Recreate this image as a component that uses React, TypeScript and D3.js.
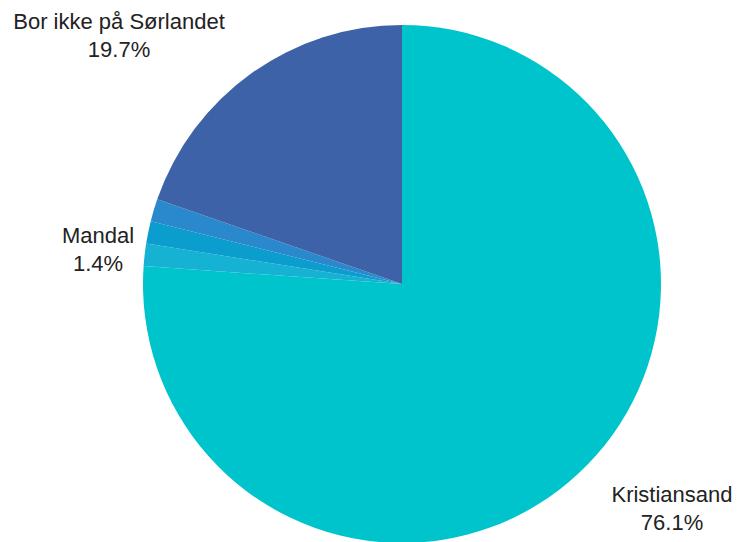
import React from "react";
import * as d3 from "d3";

const categories = ["Kristiansand", "Søgne", "Mandal", "Vennesla", "Bor ikke på Sørlandet"];
const values = [76.1, 1.4, 1.4, 1.4, 19.7];
const colors = ["#00c4cc", "#16b2d3", "#0a9dcd", "#2a88cc", "#3d62a8"];
const shownLabels = ["Kristiansand", "Mandal", "Bor ikke på Sørlandet"];

const W = 737;
const H = 542;
const CX = 402;
const CY = 284;
const R = 259;

// label anchor positions (layout)
const labelPos: Record<string, [number, number]> = {
  "Kristiansand": [672, 502],
  "Mandal": [98, 243],
  "Bor ikke på Sørlandet": [119, 29],
};

export default function App() {
  const data = categories.map((c, i) => ({ name: c, value: values[i], color: colors[i] }));
  const pie = d3.pie<any>().sort(null).value((d) => d.value);
  const arcs = pie(data);
  const arc = d3.arc<any>().innerRadius(0).outerRadius(R);
  return (
    <svg
      width={W}
      height={H}
      style={{ position: "absolute", left: 0, top: 0, background: "#fff" }}
      fontFamily="'Liberation Sans', Arial, sans-serif"
    >
      <g transform={`translate(${CX},${CY})`}>
        {arcs.map((a, i) => (
          <path key={i} d={arc(a) as string} fill={a.data.color} />
        ))}
      </g>
      {arcs
        .filter((a) => shownLabels.includes(a.data.name))
        .map((a, i) => {
          const [x, y] = labelPos[a.data.name];
          return (
            <text key={i} x={x} y={y} textAnchor="middle" fontSize={22} fill="#222">
              <tspan x={x}>{a.data.name}</tspan>
              <tspan x={x} dy={28}>{d3.format(".1f")(a.data.value)}%</tspan>
            </text>
          );
        })}
    </svg>
  );
}
